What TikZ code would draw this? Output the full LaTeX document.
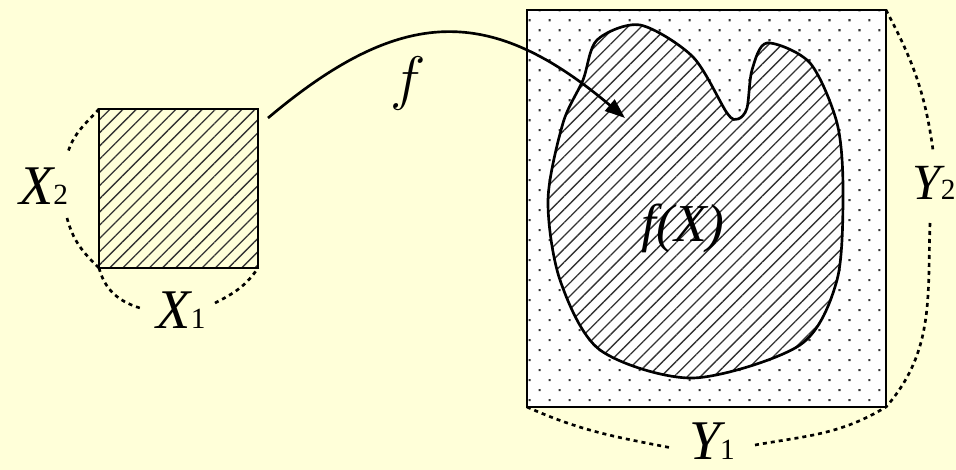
\RequirePackage{fix-cm}
\documentclass[tikz,border=0pt]{standalone}
\usepackage{fontspec}
\setmainfont{Liberation Serif}
\usetikzlibrary{arrows.meta, patterns.meta}

\definecolor{paper}{HTML}{FFFFD9}
\newcommand{\subnum}[1]{{\upshape\fontsize{22}{22}\selectfont #1}}

\begin{document}
\begin{tikzpicture}[x=0.75pt, y=-0.75pt,
    box/.style={draw, line width=2pt, inner sep=0pt, outer sep=0pt},
    hatch/.style={pattern={Lines[angle=45, distance=7pt, line width=1pt]}, pattern color=black!80},
    speckle/.style={pattern={Dots[angle=45, distance=10.6pt, radius=1.1pt]}, pattern color=black!80},
    lbl/.style={anchor=base, inner sep=0pt, font=\fontsize{42}{46}\selectfont\itshape},
    span/.style={line width=2pt, dash pattern=on 3pt off 3pt},
    maparrow/.style={line width=2pt, -{Triangle[length=15pt, width=11pt]}}]

    % Background
    \useasboundingbox[fill=paper] (0,0) rectangle (956,470);

    % Codomain Y, dotted
    \node[box, preaction={fill=white}, speckle, minimum width=269.25pt, minimum height=297.75pt] (img) at (706.5,208.5) {};

    % Image f(X)
    \draw[line width=2pt, preaction={fill=white}, hatch] plot[smooth cycle] coordinates {
        (640,25) (693,57) (727,113) (738,119) (747,108) (752,70) (767,43)
        (810,63) (837,123) (843,190) (837,280) (800,345) (693,378) (600,350)
        (560,280) (548,200) (563,123) (583,80) (597,40)};

    % Domain X
    \node[box, hatch, minimum size=119.25pt] (dom) at (178.5,188.5) {};

    % Labels
    \node[lbl] (lx2) at (43.5,205) {X\subnum{2}};
    \node[lbl] (lx1) at (181,328) {X\subnum{1}};
    \node[lbl, font=\fontsize{45}{48}\selectfont] (lf) at (408,99) {\(f\)};
    \node[lbl, font=\fontsize{40}{44}\selectfont\itshape] (lfx) at (683,242) {f(X)};
    \node[lbl, font=\fontsize{38}{42}\selectfont\itshape] (ly2) at (934,200) {Y\subnum{2}};
    \node[lbl] (ly1) at (712,459) {Y\subnum{1}};

    % Ends of the dashed spans at the labels
    \coordinate (x2a) at (68,152);
    \coordinate (x2b) at (67,218);
    \coordinate (x1a) at (140,308);
    \coordinate (x1b) at (215,303);
    \coordinate (y2a) at (933,150);
    \coordinate (y2b) at (930,223);
    \coordinate (y1a) at (672,448);
    \coordinate (y1b) at (755,445);

    % Side lengths
    \draw[span] (dom.north west) to[out=228, in=72] (x2a);
    \draw[span] (x2b) to[out=-75, in=136] (dom.south west);
    \draw[span] (dom.south west) to[out=-75, in=163] (x1a);
    \draw[span] (x1b) to[out=27, in=236] (dom.south east);
    \draw[span] (img.north east) to[out=-62, in=98] (y2a);
    \draw[span] (y2b) to[out=-92, in=49] (img.south east);
    \draw[span] (img.south west) to[out=-24, in=169] (y1a);
    \draw[span] (y1b) to[out=10, in=211] (img.south east);

    % The map f
    \coordinate (fstart) at ([shift={(10,9)}]dom.north east);
    \coordinate (ftip) at (625,118);
    \draw[maparrow] (fstart) .. controls (402,5) and (491,5) .. (ftip);
\end{tikzpicture}
\end{document}
